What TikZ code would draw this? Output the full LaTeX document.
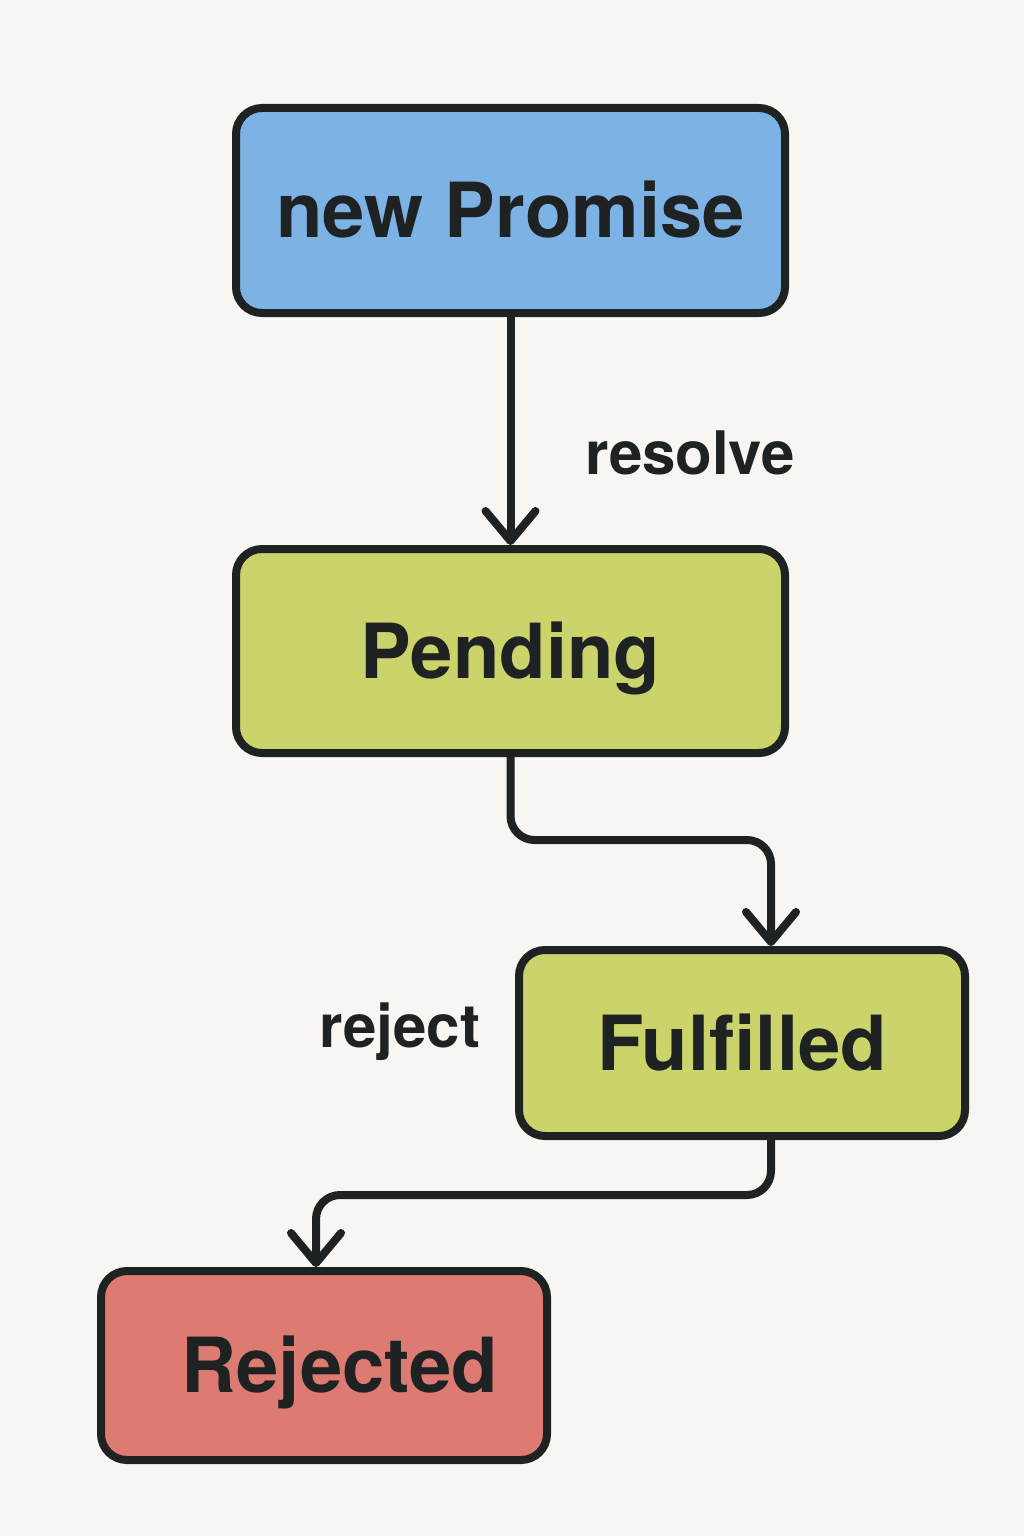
\documentclass[tikz,border=0pt]{standalone}
\usepackage{fontspec}
\setmainfont{TeX Gyre Heros}
\usetikzlibrary{arrows.meta}
\definecolor{bg}{HTML}{F8F6F2}
\definecolor{ink}{HTML}{1E2222}
\definecolor{cblue}{HTML}{7DB3E4}
\definecolor{cgreen}{HTML}{CBD46B}
\definecolor{cred}{HTML}{DD7B73}
\tikzset{
  statebox/.style={draw=ink, line width=4pt, rounded corners=13pt, text=ink,
    font=\fontsize{38}{40}\selectfont\bfseries, inner sep=0pt,
    text height=27.4pt, text depth=0pt},
  lbl/.style={text=ink, font=\fontsize{30}{32}\selectfont\bfseries, inner sep=0pt},
  conn/.style={draw=ink, line width=4pt, rounded corners=12pt, line cap=round,
    -{Straight Barb[length=15pt,width=25pt,line cap=round,line join=round]}}
}
\begin{document}
\begin{tikzpicture}[x=1pt,y=1pt]
\fill[bg] (0,0) rectangle (512,-768);
\useasboundingbox (0,0) rectangle (512,-768);
\node[statebox, fill=cblue, minimum width=274.5pt, minimum height=102.5pt] (np) at (255.25,-105.25) {new Promise};
\node[statebox, fill=cgreen, minimum width=274.5pt, minimum height=102pt] (pend) at (255.25,-325.5) {Pending};
\node[statebox, fill=cgreen, minimum width=223pt, minimum height=93pt] (ful) at (371,-521.5) {Fulfilled};
\node[statebox, fill=cred, minimum width=223pt, minimum height=94.5pt] (rej) at (162,-682.75) {\hspace*{16pt}Rejected};
\node[lbl] (res) at (345,-226.5) {resolve};
\node[lbl] (rjl) at (200,-516) {reject};
\coordinate (c1) at (0,-420);
\coordinate (c2) at (0,-597.5);
\coordinate (fin) at ([xshift=14.5pt]ful.north);
\coordinate (fout) at ([xshift=14.5pt]ful.south);
\coordinate (rin) at ([xshift=-4pt]rej.north);
\draw[conn] (np.south) -- (pend.north);
\draw[conn] (pend.south) -- (pend.south |- c1) -- (fin |- c1) -- (fin);
\draw[conn] (fout) -- (fout |- c2) -- (rin |- c2) -- (rin);
\end{tikzpicture}
\end{document}
